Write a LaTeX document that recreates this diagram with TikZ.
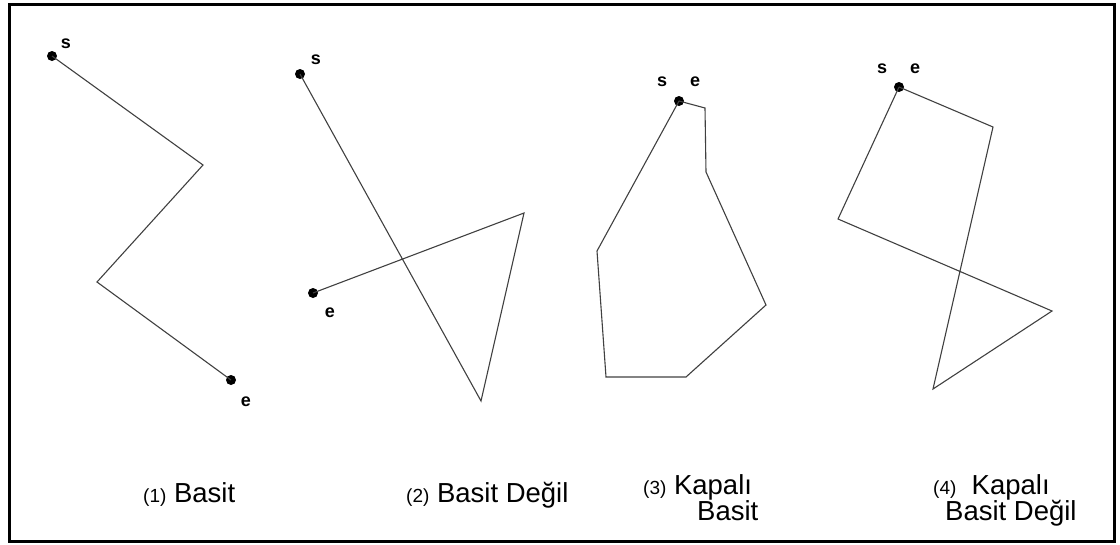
\documentclass[tikz,border=0pt]{standalone}
\usepackage{fontspec}
\setmainfont{Liberation Sans}
\usetikzlibrary{positioning}

\begin{document}
\begin{tikzpicture}[x=1pt, y=-1pt,
    dot/.style={circle, fill=black, inner sep=0pt, minimum size=10pt},
    lbl/.style={font=\bfseries\fontsize{18}{18}\selectfont, inner sep=0pt},
    edge/.style={draw=black!75, line width=1.1pt, line join=miter},
    caption/.style={font=\fontsize{27.5}{29}\selectfont, inner sep=0pt, anchor=base west}
]
    \useasboundingbox (0,0) rectangle (1120,544);
    \draw [line width=3pt] (9.5,4.5) rectangle (1114.5,541.5);

    % (1) Basit
    \node [dot] (s1) at (52,56) {};
    \coordinate (a1) at (203,165);
    \coordinate (b1) at (97,282);
    \node [dot] (e1) at (231,380) {};
    \node [lbl] (s1l) at (66,44) {s};
    \node [lbl] (e1l) at (246,402) {e};
    \draw [edge] (s1.center) -- (a1) -- (b1) -- (e1.center);

    % (2) Basit Değil
    \node [dot] (s2) at (300,74) {};
    \coordinate (a2) at (481,401);
    \coordinate (b2) at (524,213);
    \node [dot] (e2) at (313,293) {};
    \node [lbl] (s2l) at (316,60) {s};
    \node [lbl] (e2l) at (330,313) {e};
    \draw [edge] (s2.center) -- (a2) -- (b2) -- (e2.center);

    % (3) Kapalı Basit
    \node [dot] (se3) at (679,101) {};
    \coordinate (a3) at (705,108);
    \coordinate (b3) at (706,172);
    \coordinate (c3) at (766,305);
    \coordinate (d3) at (686,377);
    \coordinate (f3) at (606,377);
    \coordinate (g3) at (597,251);
    \node [lbl] (s3l) at (662,82) {s};
    \node [lbl] (e3l) at (695,82) {e};
    \draw [edge] (se3.center) -- (a3) -- (b3) -- (c3) -- (d3) -- (f3) -- (g3) -- (se3.center);

    % (4) Kapalı Basit Değil
    \node [dot] (se4) at (899,87) {};
    \coordinate (a4) at (993,127);
    \coordinate (b4) at (933,389);
    \coordinate (c4) at (1052,311);
    \coordinate (d4) at (838,219);
    \node [lbl] (s4l) at (882,69) {s};
    \node [lbl] (e4l) at (915,69) {e};
    \draw [edge] (se4.center) -- (a4) -- (b4) -- (c4) -- (d4) -- (se4.center);

    % captions
    \node [caption] (cap1) at (143,502) {{\fontsize{19}{19}\selectfont(1)} Basit};
    \node [caption] (cap2) at (406,502) {{\fontsize{19}{19}\selectfont(2)} Basit Değil};
    \node [caption] (cap3a) at (643,494) {{\fontsize{19}{19}\selectfont(3)} Kapalı};
    \node [caption] (cap3b) at (697,520) {Basit};
    \node [caption] (cap4a) at (933,494) {{\fontsize{19}{19}\selectfont(4)}\ \ Kapalı};
    \node [caption] (cap4b) at (945,520) {Basit Değil};
\end{tikzpicture}
\end{document}
